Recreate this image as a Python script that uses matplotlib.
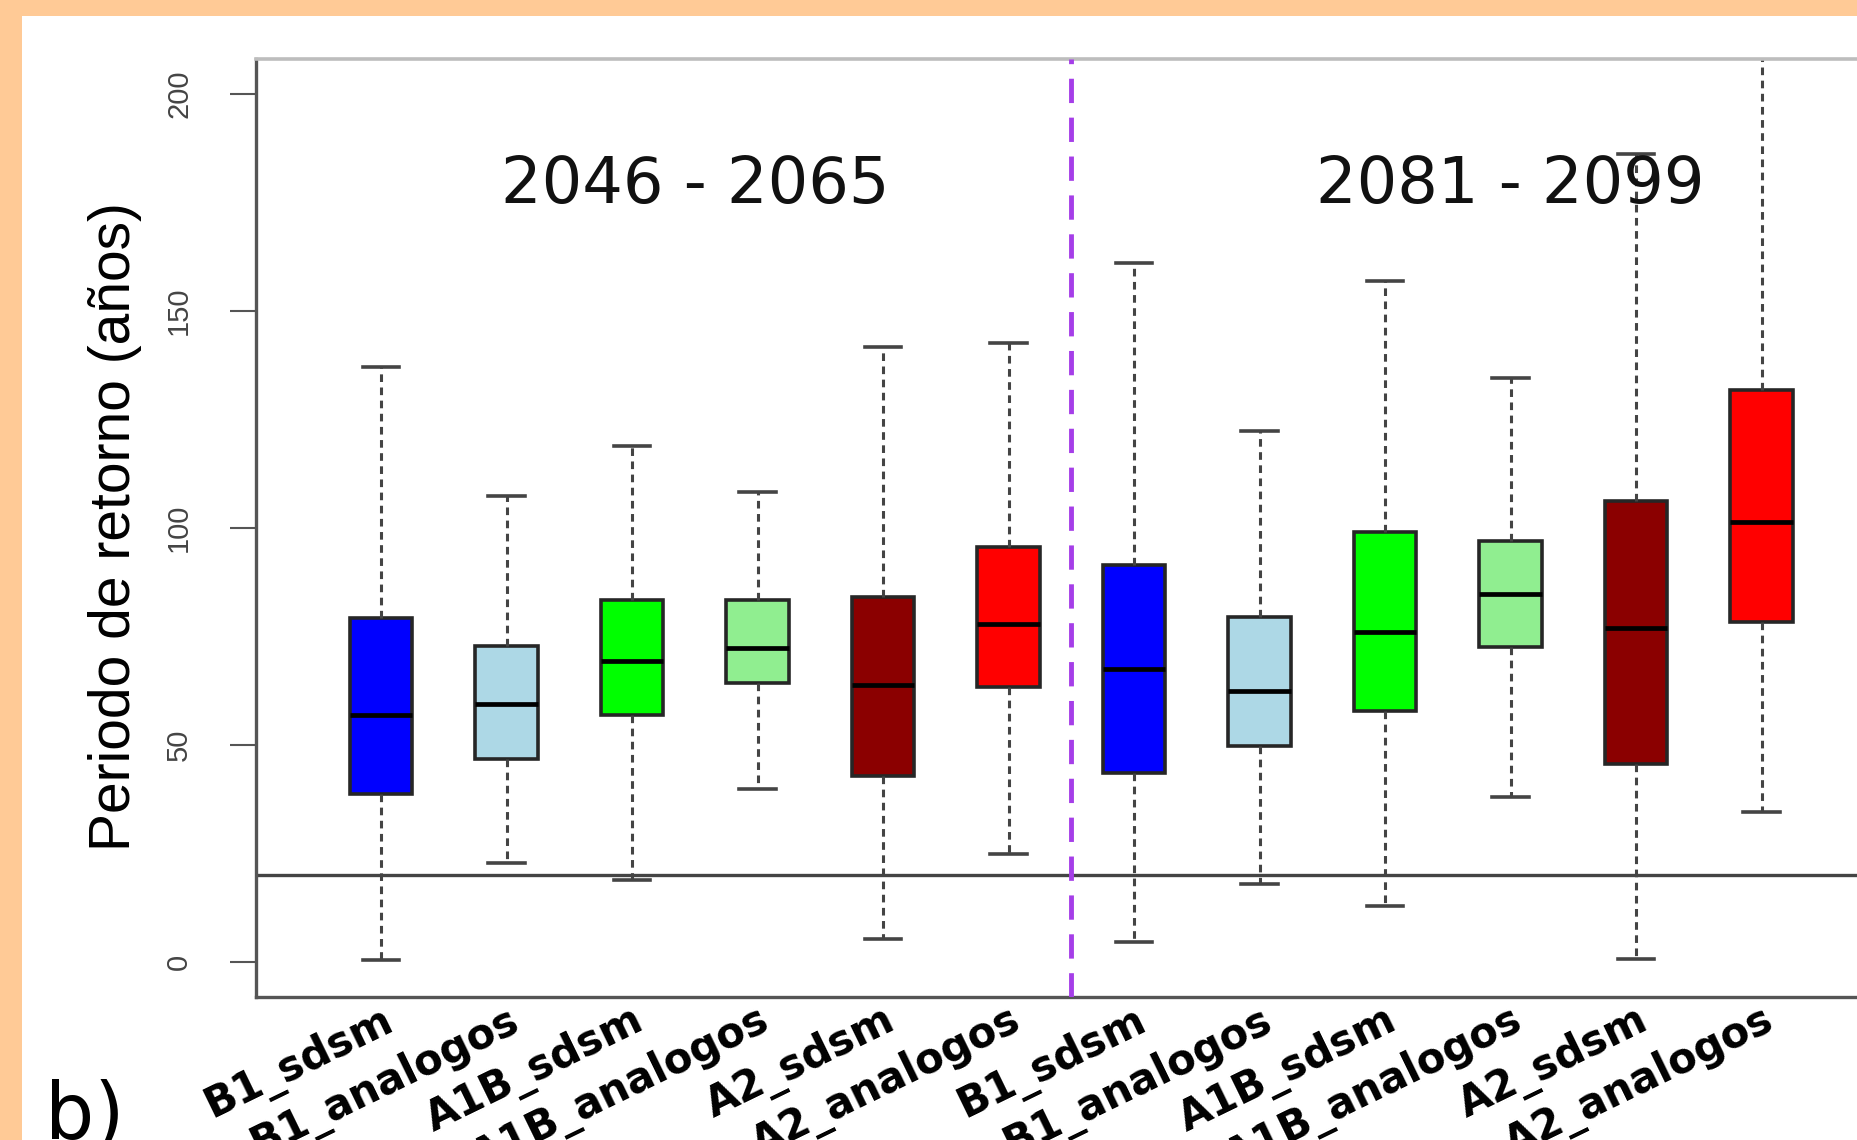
import matplotlib
matplotlib.use("Agg")
import matplotlib.pyplot as plt
from matplotlib.patches import Rectangle

# periodo de retorno por escenario y metodo (dos ventanas de tiempo)
etiquetas = ["B1_sdsm", "B1_analogos", "A1B_sdsm", "A1B_analogos", "A2_sdsm", "A2_analogos",
             "B1_sdsm", "B1_analogos", "A1B_sdsm", "A1B_analogos", "A2_sdsm", "A2_analogos"]
bigote_inf = [0.5, 22.8, 19.0, 40.0, 5.4, 25.0, 4.6, 18.0, 13.0, 38.0, 0.8, 34.5]
q1 = [38.8, 46.8, 57.0, 64.4, 42.9, 63.3, 43.5, 49.8, 57.9, 72.6, 45.7, 78.3]
mediana = [57.0, 59.5, 69.3, 72.3, 63.9, 78.0, 67.6, 62.5, 76.0, 84.8, 76.9, 101.4]
q3 = [79.4, 72.9, 83.4, 83.4, 84.2, 95.7, 91.5, 79.6, 99.0, 97.0, 106.2, 131.8]
bigote_sup = [137.0, 107.3, 118.8, 108.4, 141.8, 142.7, 161.0, 122.3, 156.8, 134.5, 186.2, 215.0]
colores = ["#0000ff", "#add8e6", "#00ff00", "#90ee90", "#8b0000", "#ff0000"] * 2
periodos = ["2046 - 2065", "2081 - 2099"]
umbral = 20

fig = plt.figure(figsize=(18.57, 11.40), dpi=100, facecolor="#ffca96")
fig.patches.append(Rectangle((22 / 1857, 0), 1, 1 - 16 / 1140, transform=fig.transFigure,
                             facecolor="white", edgecolor="none", zorder=-5))

ax = fig.add_axes([0.1376, 0.1254, 0.8786, 0.8228])
ax.set_zorder(2)

stats = []
for i in range(len(etiquetas)):
    stats.append(dict(whislo=bigote_inf[i], q1=q1[i], med=mediana[i], q3=q3[i], whishi=bigote_sup[i]))

pos = list(range(1, len(etiquetas) + 1))
bp = ax.bxp(stats, positions=pos, widths=0.5, showfliers=False, patch_artist=True,
            capwidths=0.29,
            boxprops=dict(edgecolor="#262626", linewidth=2.6),
            medianprops=dict(color="black", linewidth=3.4),
            whiskerprops=dict(color="#444444", linewidth=2.2, linestyle=(0, (2.5, 1.8))),
            capprops=dict(color="#444444", linewidth=2.6))
for caja, c in zip(bp["boxes"], colores):
    caja.set_facecolor(c)

ax.axhline(umbral, color="#444444", linewidth=2.4, zorder=1)
ax.axvline(6.5, color="#a53ee8", linewidth=3.5, linestyle=(0, (5, 3)), zorder=3)

ax.text(3.5, 179, periodos[0], fontsize=46, ha="center", va="center", color="#111111")
ax.text(10, 179, periodos[1], fontsize=46, ha="center", va="center", color="#111111")

ax.set_xlim(0, 13)
ax.set_ylim(-8, 208)

ax.set_yticks([0, 50, 100, 150, 200])
ax.set_yticklabels(["0", "50", "100", "150", "200"], rotation=90, va="center",
                   family="Liberation Sans", fontsize=21, color="#444444")
ax.tick_params(axis="y", length=19, width=1.5, color="#555555", pad=26)

ax.set_xticks(pos)
ax.set_xticklabels(etiquetas, rotation=26, ha="right", rotation_mode="anchor",
                   fontweight="bold", fontsize=30)
ax.tick_params(axis="x", length=0, pad=1)

for lado in ["left", "bottom"]:
    ax.spines[lado].set_color("#555555")
    ax.spines[lado].set_linewidth(2.4)
ax.spines["top"].set_color("#bdbdbd")
ax.spines["top"].set_linewidth(2.6)
ax.spines["right"].set_visible(False)

fig.text(115 / 1857, 1 - 527 / 1140, "Periodo de retorno (años)", rotation=90,
         ha="center", va="center", fontsize=41, family="Liberation Sans")
fig.text(45 / 1857, 1 - 1139 / 1140, "b)", fontsize=56, ha="left", va="baseline")

fig.savefig("out.png", dpi=100, facecolor=fig.get_facecolor())
